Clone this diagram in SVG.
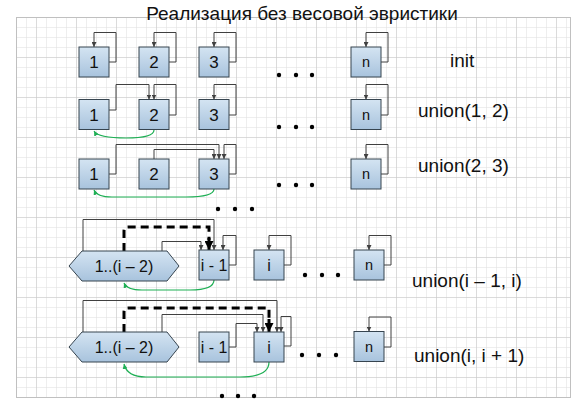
<svg xmlns="http://www.w3.org/2000/svg" width="584" height="412" viewBox="0 0 584 412">
<defs>
<linearGradient id="bg" x1="0" y1="0" x2="0" y2="1">
<stop offset="0" stop-color="#d4e4f2"/>
<stop offset="1" stop-color="#a8c3dd"/>
</linearGradient>
<pattern id="minor" x="16" y="17" width="10" height="10" patternUnits="userSpaceOnUse">
<path d="M0,0 V10 M0,0 H10" fill="none" stroke="#dedede" stroke-width="1"/>
</pattern>
<pattern id="major" x="-4" y="17" width="40" height="40" patternUnits="userSpaceOnUse">
<path d="M0,0 V40 M0,0 H40" fill="none" stroke="#c8c8c8" stroke-width="1"/>
</pattern>
<marker id="a" markerWidth="5" markerHeight="5" refX="5" refY="2.5" orient="auto" markerUnits="userSpaceOnUse">
<path d="M0,0 L5,2.5 L0,5 z" fill="#404040"/>
</marker>
<marker id="ta" markerWidth="9" markerHeight="9" refX="9" refY="4.5" orient="auto" markerUnits="userSpaceOnUse">
<path d="M0,0 L9,4.5 L0,9 z" fill="#000"/>
</marker>
<marker id="ga" markerWidth="5" markerHeight="5" refX="5" refY="2.5" orient="auto" markerUnits="userSpaceOnUse">
<path d="M0,0 L5,2.5 L0,5 z" fill="#1faf55"/>
</marker>
</defs>
<style>
.box{fill:url(#bg);stroke:#36444f;stroke-width:1}
.t{font-family:"Liberation Sans",Arial,sans-serif;fill:#111;text-anchor:middle}
.lbl{font-family:"Liberation Sans",Arial,sans-serif;fill:#111;font-size:19px}
.c{fill:none;stroke:#404040;stroke-width:1;marker-end:url(#a)}
.g{fill:none;stroke:#1faf55;stroke-width:1.2;marker-end:url(#ga)}
.d{fill:none;stroke:#000;stroke-width:3;stroke-dasharray:8,5}
.dot{fill:#000}
</style>
<rect width="584" height="412" fill="#fff"/>
<rect x="16" y="17" width="554" height="380" fill="url(#minor)"/>
<rect x="16" y="17" width="554" height="380" fill="url(#major)"/>
<rect x="16.5" y="17.5" width="554" height="380" fill="none" stroke="#c0c0c0"/>
<text x="302" y="19.5" class="t" style="font-size:19px">Реализация без весовой эвристики</text>

<g id="connectors">
<path class="c" d="M109,62 H116 V32.5 H94 V47"/>
<path class="c" d="M169,62 H176 V32.5 H154 V47"/>
<path class="c" d="M229,62 H236 V32.5 H214 V47"/>
<path class="c" d="M381,62 H388 V32.5 H366 V47"/>
<path class="c" d="M109,110 H116 V84.5 H149 V99.5"/>
<path class="c" d="M169,115 H176 V84.5 H154 V99.5"/>
<path class="c" d="M229,115 H236 V84.5 H214 V99.5"/>
<path class="c" d="M381,115 H388 V84.5 H366 V99.5"/>
<path class="g" d="M154,130 Q154,138 126,138 Q98,138 94,131"/>
<path class="c" d="M109,174 H116 V144.5 H219 V159"/>
<path class="c" d="M154,159 V149.5 H214 V159"/>
<path class="c" d="M229,174 H236 V144.5 H224 V159"/>
<path class="c" d="M381,174 H388 V144.5 H366 V159"/>
<path class="g" d="M214,189 Q214,197 186,197 L112,197 Q97,197 94,190"/>
<path class="c" d="M83,251 V219.5 H214 V250"/>
<path class="c" d="M162,251 V241.5 H201 V250"/>
<path class="d" d="M124,251 V231 Q124,227 128,227 H209 V240"/>
<path d="M209,238 V250" fill="none" stroke="#000" stroke-width="3" marker-end="url(#ta)"/>
<path class="c" d="M229,265 H236 V235.5 H223 V250"/>
<path class="c" d="M284,265 H291 V235.5 H269 V250"/>
<path class="c" d="M384,265 H391 V235.5 H369 V250"/>
<path class="g" d="M214,280 Q214,290 190,290 L142,290 Q127,290 124,283"/>
<path class="c" d="M83,332 V300.5 H277 V332"/>
<path class="c" d="M162,332 V314.5 H263 V332"/>
<path class="d" d="M124,332 V312 Q124,308 128,308 H269 V321"/>
<path d="M269,319 V332" fill="none" stroke="#000" stroke-width="3" marker-end="url(#ta)"/>
<path class="c" d="M229,347 H236 V323.5 H257 V332"/>
<path class="c" d="M284,346 H291 V316.5 H281 V332"/>
<path class="c" d="M384,347 H391 V317 H369 V331.5"/>
<path class="g" d="M269,362 Q269,377 240,377 L146,377 Q127,377 124,364"/>
</g>

<g id="dots">
<circle class="dot" cx="279" cy="75" r="2.2"/><circle class="dot" cx="296" cy="75" r="2.2"/><circle class="dot" cx="312" cy="75" r="2.2"/>
<circle class="dot" cx="279" cy="127" r="2.2"/><circle class="dot" cx="296" cy="127" r="2.2"/><circle class="dot" cx="312" cy="127" r="2.2"/>
<circle class="dot" cx="279" cy="185" r="2.2"/><circle class="dot" cx="296" cy="185" r="2.2"/><circle class="dot" cx="312" cy="185" r="2.2"/>
<circle class="dot" cx="218" cy="209" r="2.2"/><circle class="dot" cx="235" cy="209" r="2.2"/><circle class="dot" cx="252" cy="209" r="2.2"/>
<circle class="dot" cx="305" cy="275" r="2.2"/><circle class="dot" cx="322" cy="275" r="2.2"/><circle class="dot" cx="338" cy="275" r="2.2"/>
<circle class="dot" cx="302" cy="355" r="2.2"/><circle class="dot" cx="319" cy="355" r="2.2"/><circle class="dot" cx="336" cy="355" r="2.2"/>
<circle class="dot" cx="222" cy="396" r="2.2"/><circle class="dot" cx="238" cy="396" r="2.2"/><circle class="dot" cx="254" cy="396" r="2.2"/>
</g>

<g id="r1n1"><rect class="box" x="79" y="47" width="30" height="30"/><text class="t" x="94" y="68" style="font-size:17px">1</text></g>
<g id="r1n2"><rect class="box" x="139" y="47" width="30" height="30"/><text class="t" x="154" y="68" style="font-size:17px">2</text></g>
<g id="r1n3"><rect class="box" x="199" y="47" width="30" height="30"/><text class="t" x="214" y="68" style="font-size:17px">3</text></g>
<g id="r1nn"><rect class="box" x="351" y="47" width="30" height="30"/><text class="t" x="366" y="67" style="font-size:14.5px">n</text></g>
<g id="r2n1"><rect class="box" x="79" y="99.5" width="30" height="30"/><text class="t" x="94" y="120.5" style="font-size:17px">1</text></g>
<g id="r2n2"><rect class="box" x="139" y="99.5" width="30" height="30"/><text class="t" x="154" y="120.5" style="font-size:17px">2</text></g>
<g id="r2n3"><rect class="box" x="199" y="99.5" width="30" height="30"/><text class="t" x="214" y="120.5" style="font-size:17px">3</text></g>
<g id="r2nn"><rect class="box" x="351" y="99.5" width="30" height="30"/><text class="t" x="366" y="119.5" style="font-size:14.5px">n</text></g>
<g id="r3n1"><rect class="box" x="79" y="159" width="30" height="30"/><text class="t" x="94" y="180" style="font-size:17px">1</text></g>
<g id="r3n2"><rect class="box" x="139" y="159" width="30" height="30"/><text class="t" x="154" y="180" style="font-size:17px">2</text></g>
<g id="r3n3"><rect class="box" x="199" y="159" width="30" height="30"/><text class="t" x="214" y="180" style="font-size:17px">3</text></g>
<g id="r3nn"><rect class="box" x="351" y="159" width="30" height="30"/><text class="t" x="366" y="179" style="font-size:14.5px">n</text></g>
<g id="r4hex"><polygon class="box" points="69,266 82,251 167,251 179,266 167,281 82,281"/><text class="t" x="124" y="272" style="font-size:16px">1..(i – 2)</text></g>
<g id="r4im1"><rect class="box" x="199" y="250" width="30" height="30"/><text class="t" x="214" y="271" style="font-size:16px">i - 1</text></g>
<g id="r4i"><rect class="box" x="254" y="250" width="30" height="30"/><text class="t" x="269" y="271" style="font-size:16px">i</text></g>
<g id="r4nn"><rect class="box" x="354" y="250" width="30" height="30"/><text class="t" x="369" y="270" style="font-size:14.5px">n</text></g>
<g id="r5hex"><polygon class="box" points="69,347 82,332 167,332 179,347 167,362 82,362"/><text class="t" x="124" y="353" style="font-size:16px">1..(i – 2)</text></g>
<g id="r5im1"><rect class="box" x="199" y="332" width="30" height="30"/><text class="t" x="214" y="353" style="font-size:16px">i - 1</text></g>
<g id="r5i"><rect class="box" x="254" y="332" width="30" height="30"/><text class="t" x="269" y="353" style="font-size:16px">i</text></g>
<g id="r5nn"><rect class="box" x="354" y="331.5" width="30" height="30"/><text class="t" x="369" y="351.5" style="font-size:14.5px">n</text></g>

<g id="labels">
<text class="lbl" x="450" y="67">init</text>
<text class="lbl" x="418" y="117">union(1, 2)</text>
<text class="lbl" x="418" y="172">union(2, 3)</text>
<text class="lbl" x="412" y="287">union(i – 1, i)</text>
<text class="lbl" x="414" y="362">union(i, i + 1)</text>
</g>
</svg>
